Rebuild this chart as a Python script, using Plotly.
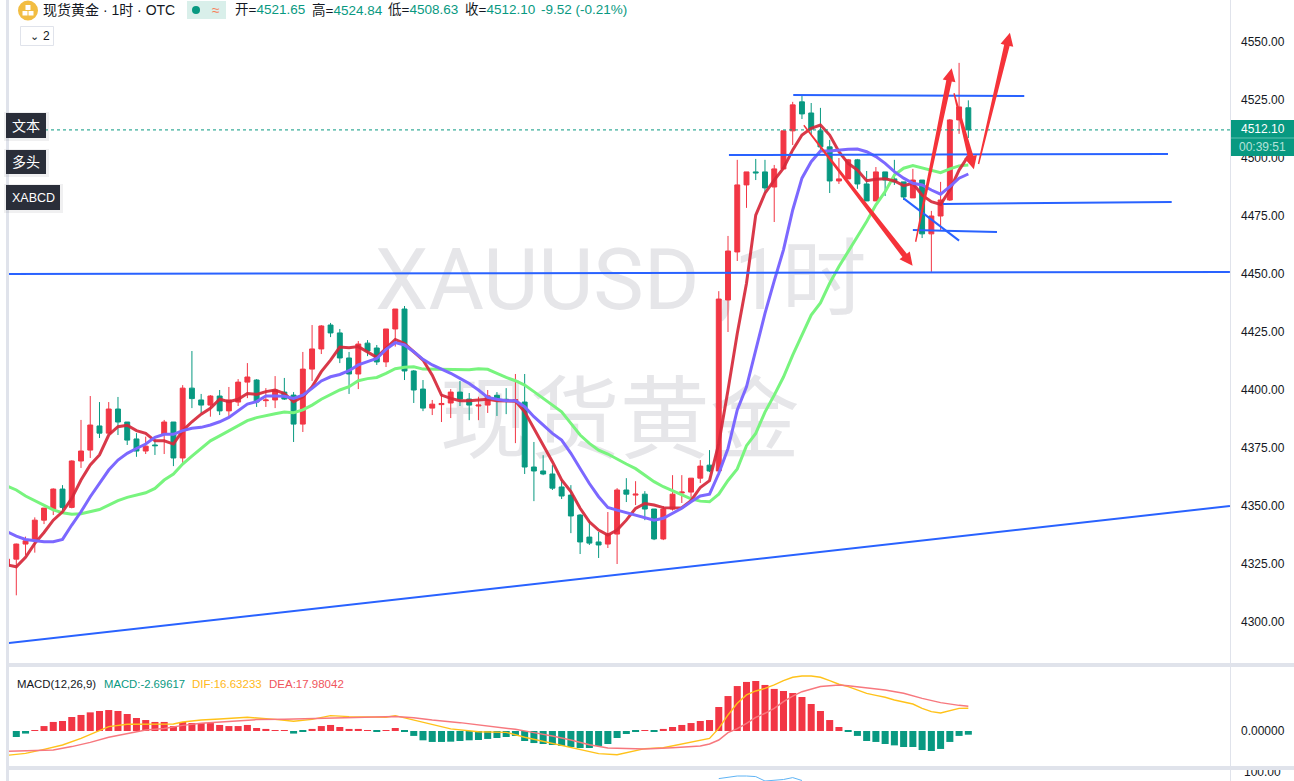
import math
import plotly.graph_objects as go

# candles, bar index -1 .. 103
opens = [4324.1, 4327.1, 4333.6, 4335.3, 4343.9, 4348.7, 4357.3, 4349.4, 4369.4, 4374.1,
         4384.5, 4381.4, 4391.8, 4386.2, 4378.9, 4373.7, 4376.3, 4380.9, 4386.2, 4370.7,
         4400.8, 4395.7, 4393.5, 4397.4, 4391.0, 4394.8, 4403.4, 4404.3, 4395.4, 4395.7,
         4399.1, 4397.8, 4385.3, 4409.0, 4417.7, 4428.0, 4424.6, 4413.8, 4406.9, 4420.2,
         4418.1, 4412.1, 4426.3, 4434.9, 4408.2, 4400.4, 4392.2, 4393.7, 4394.4, 4399.1,
         4396.1, 4393.1, 4393.5, 4397.7, 4396.0, 4395.4, 4394.8, 4366.8, 4365.1, 4363.8,
         4358.2, 4354.7, 4346.1, 4336.6, 4334.5, 4333.6, 4337.9, 4356.9, 4354.7, 4355.1,
         4348.7, 4335.8, 4348.7, 4355.6, 4356.0, 4362.0, 4367.6, 4365.1, 4438.8, 4459.5,
         4488.4, 4494.0, 4494.0, 4487.5, 4495.3, 4511.7, 4524.2, 4519.4, 4511.7, 4504.8,
         4490.1, 4491.0, 4499.2, 4488.8, 4481.5, 4494.0, 4491.0, 4489.7, 4482.8, 4490.5,
         4467.3, 4475.0, 4481.9, 4516.4, 4521.65]
highs = [4328.0, 4333.8, 4336.8, 4345.1, 4349.1, 4357.6, 4359.0, 4369.7, 4387.1, 4397.4,
         4394.8, 4394.8, 4397.0, 4386.2, 4381.4, 4379.9, 4378.9, 4387.1, 4386.2, 4402.1,
         4416.8, 4398.3, 4397.8, 4400.0, 4401.3, 4404.7, 4411.6, 4404.7, 4400.8, 4406.0,
         4405.2, 4399.1, 4416.4, 4428.0, 4428.0, 4428.9, 4426.3, 4416.4, 4421.1, 4421.5,
         4419.4, 4426.3, 4434.9, 4436.2, 4408.6, 4404.3, 4395.7, 4398.3, 4400.4, 4403.9,
         4398.7, 4397.1, 4400.0, 4399.1, 4400.8, 4406.9, 4406.9, 4377.6, 4371.9, 4367.6,
         4361.2, 4359.0, 4346.5, 4344.0, 4338.8, 4347.4, 4357.7, 4362.0, 4360.7, 4356.4,
         4348.7, 4350.0, 4363.3, 4363.3, 4362.0, 4369.8, 4374.1, 4442.6, 4466.4, 4499.2,
         4494.0, 4499.6, 4499.2, 4497.0, 4511.7, 4524.2, 4526.7, 4523.7, 4521.6, 4507.8,
         4500.0, 4499.6, 4499.6, 4494.4, 4496.1, 4494.0, 4499.2, 4489.7, 4495.3, 4490.5,
         4477.2, 4489.7, 4516.8, 4541.0, 4524.84]
lows = [4323.0, 4311.5, 4328.9, 4329.9, 4342.2, 4346.1, 4348.3, 4349.0, 4366.4, 4370.7,
        4379.3, 4381.4, 4380.6, 4376.3, 4371.2, 4372.4, 4372.0, 4372.4, 4367.2, 4368.1,
        4392.2, 4390.1, 4388.5, 4389.2, 4388.8, 4393.1, 4396.5, 4392.7, 4392.7, 4392.2,
        4395.7, 4377.6, 4381.9, 4403.9, 4415.5, 4422.8, 4411.6, 4398.3, 4400.4, 4414.6,
        4410.8, 4409.9, 4418.7, 4404.3, 4394.4, 4390.9, 4389.2, 4386.2, 4387.9, 4393.1,
        4387.0, 4387.0, 4390.1, 4388.8, 4389.6, 4377.1, 4363.8, 4352.1, 4363.3, 4356.9,
        4353.0, 4338.3, 4329.3, 4333.2, 4327.6, 4331.9, 4325.0, 4351.7, 4350.4, 4343.9,
        4335.3, 4335.3, 4348.0, 4351.3, 4352.6, 4359.9, 4364.6, 4365.1, 4425.0, 4455.6,
        4478.5, 4490.5, 4484.8, 4472.4, 4495.3, 4505.6, 4516.8, 4510.0, 4503.5, 4484.9,
        4488.8, 4491.0, 4486.7, 4481.5, 4481.5, 4483.6, 4488.4, 4481.9, 4482.8, 4465.5,
        4450.9, 4469.0, 4481.5, 4510.4, 4508.63]
closes = [4327.1, 4333.6, 4335.0, 4343.9, 4349.1, 4357.3, 4349.4, 4369.4, 4373.7, 4384.9,
          4381.4, 4391.8, 4386.2, 4378.4, 4373.7, 4375.8, 4376.0, 4386.2, 4370.7, 4400.8,
          4396.3, 4393.5, 4397.4, 4391.0, 4395.7, 4403.4, 4405.6, 4394.8, 4395.7, 4400.0,
          4396.1, 4385.3, 4409.0, 4417.7, 4427.6, 4424.6, 4413.8, 4406.9, 4419.8, 4416.8,
          4412.1, 4426.3, 4434.9, 4408.2, 4400.0, 4392.2, 4393.9, 4394.2, 4399.1, 4396.1,
          4393.5, 4393.5, 4397.5, 4395.7, 4395.6, 4395.8, 4366.8, 4365.1, 4363.8, 4357.7,
          4354.3, 4345.7, 4334.5, 4334.0, 4333.2, 4337.9, 4356.9, 4355.1, 4355.1, 4348.7,
          4335.8, 4348.7, 4355.1, 4356.0, 4362.0, 4367.2, 4365.1, 4439.2, 4459.9, 4488.4,
          4494.0, 4493.6, 4487.1, 4495.3, 4511.7, 4522.9, 4519.0, 4512.5, 4504.8, 4490.1,
          4491.0, 4499.2, 4488.8, 4481.5, 4494.0, 4490.5, 4489.7, 4483.2, 4490.5, 4467.3,
          4475.0, 4481.9, 4516.4, 4522.0, 4512.10]

# moving averages, bar index -1 .. 103
ma_fast = [4324.6, 4323.8, 4327.9, 4333.9, 4338.6, 4343.9, 4347.5, 4353.3, 4361.2, 4367.7,
           4372.0, 4380.6, 4384.2, 4384.8, 4382.5, 4381.3, 4378.1, 4378.1, 4376.7, 4382.5,
           4386.3, 4389.6, 4392.1, 4396.0, 4395.0, 4396.0, 4398.5, 4398.1, 4399.3, 4400.0,
           4398.5, 4395.0, 4397.1, 4401.4, 4407.9, 4412.9, 4418.5, 4418.2, 4418.7, 4416.5,
           4414.1, 4418.0, 4421.8, 4420.0, 4416.5, 4412.9, 4406.4, 4397.8, 4396.4, 4395.4,
           4395.4, 4395.7, 4396.0, 4395.4, 4395.2, 4395.2, 4390.6, 4383.4, 4376.3, 4369.1,
           4361.2, 4356.2, 4349.0, 4343.2, 4339.6, 4337.5, 4339.6, 4343.9, 4349.0, 4351.1,
           4350.4, 4349.3, 4349.1, 4349.3, 4352.3, 4358.0, 4360.9, 4377.0, 4400.0, 4424.4,
           4446.0, 4475.4, 4484.8, 4490.5, 4495.6, 4503.5, 4509.9, 4512.8, 4514.2, 4509.9,
           4502.7, 4497.7, 4494.8, 4490.2, 4490.8, 4491.1, 4490.1, 4488.1, 4489.1, 4484.0,
           4481.2, 4480.0, 4486.2, 4494.8, 4500.9]
ma_mid = [4338.9, 4337.0, 4335.6, 4335.0, 4334.6, 4334.6, 4335.6, 4341.8, 4347.5, 4354.0,
          4359.8, 4365.5, 4369.8, 4372.7, 4374.8, 4376.7, 4379.6, 4380.9, 4380.9, 4382.5,
          4383.5, 4383.9, 4384.9, 4386.3, 4388.2, 4391.1, 4393.9, 4395.0, 4397.4, 4397.4,
          4397.3, 4396.4, 4397.8, 4400.7, 4403.9, 4405.7, 4406.7, 4408.3, 4410.8, 4412.2,
          4413.6, 4417.5, 4420.4, 4419.4, 4416.5, 4413.2, 4410.8, 4409.0, 4407.2, 4405.0,
          4402.8, 4400.0, 4396.8, 4396.0, 4395.4, 4395.4, 4392.8, 4388.5, 4384.9, 4381.3,
          4378.4, 4372.7, 4366.2, 4359.7, 4354.0, 4349.4, 4348.2, 4347.1, 4346.1, 4344.7,
          4343.9, 4344.7, 4346.8, 4349.0, 4351.8, 4354.3, 4355.1, 4364.0, 4374.8, 4391.4,
          4401.4, 4417.2, 4433.0, 4447.0, 4460.4, 4477.6, 4491.3, 4498.4, 4503.0, 4503.0,
          4503.5, 4503.8, 4503.9, 4502.7, 4500.6, 4497.7, 4494.1, 4491.3, 4489.1, 4488.4,
          4486.2, 4484.4, 4487.7, 4491.3, 4493.1]
ma_slow = [4358.6, 4356.9, 4354.3, 4352.3, 4350.4, 4348.3, 4347.1, 4346.4, 4346.7, 4347.5,
           4348.5, 4350.4, 4352.3, 4353.7, 4354.7, 4355.7, 4357.6, 4361.2, 4363.8, 4368.1,
           4371.5, 4374.8, 4378.1, 4380.2, 4382.5, 4384.5, 4386.8, 4388.1, 4389.1, 4389.8,
           4390.5, 4390.2, 4391.4, 4393.5, 4396.0, 4398.1, 4400.0, 4401.4, 4404.0, 4404.9,
           4405.4, 4407.2, 4409.2, 4409.8, 4410.0, 4409.0, 4408.9, 4408.9, 4408.9, 4408.7,
           4408.7, 4409.2, 4408.9, 4407.2, 4405.4, 4404.0, 4402.1, 4399.3, 4396.4, 4393.5,
           4390.6, 4385.6, 4380.6, 4377.0, 4374.1, 4372.4, 4370.1, 4368.1, 4366.1, 4363.3,
           4360.5, 4358.3, 4356.6, 4354.7, 4353.1, 4352.1, 4351.8, 4355.1, 4361.0, 4366.0,
           4376.0, 4381.3, 4390.5, 4397.8, 4405.6, 4415.0, 4423.7, 4432.3, 4437.5, 4446.0,
           4453.2, 4459.6, 4466.1, 4472.6, 4479.8, 4485.5, 4492.7, 4495.6, 4496.7, 4495.6,
           4494.6, 4493.7, 4495.3, 4496.6, 4497.0]

# macd histogram, bar index 0 .. 103
macd_hist = [-4.4, -1.9, 0.3, 3.6, 6.6, 7.3, 10.2, 11.7, 13.6, 14.6,
             15.3, 14.6, 12.4, 9.5, 8.0, 6.6, 6.6, 3.6, 6.6, 5.8,
             5.8, 5.8, 4.4, 3.6, 3.6, 4.4, 2.2, 1.5, 0.7, 0.2,
             -1.9, -0.5, 1.5, 3.6, 4.4, 2.9, 1.5, 1.5, 0.7, -0.5,
             0.7, 2.2, -0.3, -3.6, -6.8, -8.0, -8.0, -7.8, -7.3, -6.8,
             -6.6, -5.8, -5.1, -4.4, -3.6, -7.3, -8.8, -9.5, -10.2, -10.9,
             -11.7, -12.4, -12.4, -10.9, -9.5, -5.1, -2.2, -0.3, 0.2, -0.3,
             1.5, 2.9, 4.4, 5.8, 7.3, 8.0, 17.5, 25.5, 32.8, 35.8,
             36.5, 33.6, 30.7, 29.2, 27.7, 24.8, 19.7, 14.6, 8.0, 2.9,
             -0.3, -3.6, -7.3, -8.0, -9.5, -10.5, -11.7, -11.7, -13.9, -14.6,
             -13.1, -8.0, -3.6, -2.7]

dif_bars = [-1, 1, 3, 5, 7, 9, 10, 12, 14, 16, 17, 18, 20, 22, 25, 28, 30, 32, 34, 36, 38, 40, 41,
            43, 45, 47, 50, 53, 55, 58, 61, 63, 65, 67, 68, 70, 72, 75, 76, 77, 78, 79, 80, 81, 82,
            83, 84, 85, 86, 87, 88, 89, 90, 91, 92, 93, 94, 95, 96, 97, 98, 99, 100, 101, 102, 103]
dif_values = [-17.8, -16.3, -13.4, -10.2, -5.4, 0.0, 3.2, 4.9, 4.9, 4.9, 5.1, 6.6, 8.0, 8.8, 10.0,
              8.5, 7.1, 8.5, 11.2, 10.5, 10.5, 10.0, 11.2, 8.0, 4.4, 1.5, -0.5, -1.0, -4.6, -9.0,
              -13.4, -16.5, -17.3, -14.4, -12.9, -12.2, -9.5, -5.4, 1.9, 11.7, 20.2, 26.3, 29.2,
              31.1, 33.6, 36.7, 39.2, 40.1, 40.1, 39.2, 36.7, 34.1, 32.4, 29.9, 27.5, 26.0, 24.6,
              22.6, 21.2, 19.7, 16.5, 14.1, 13.1, 14.6, 16.5, 16.63]
dea_bars = [-1, 2, 4, 6, 8, 10, 12, 14, 16, 18, 20, 23, 26, 29, 32, 35, 38, 41, 43, 45, 48, 51, 54,
            56, 58, 60, 62, 64, 66, 68, 71, 74, 75, 76, 77, 78, 79, 80, 81, 82, 83, 84, 85, 86, 87,
            88, 89, 90, 92, 94, 96, 98, 100, 101, 102, 103]
dea_values = [-14.8, -14.4, -13.9, -11.4, -8.3, -4.6, -1.7, 0.7, 1.9, 4.1, 5.6, 7.1, 8.3, 8.5, 9.0,
              10.0, 10.2, 10.5, 9.7, 8.0, 6.1, 3.6, 1.2, -1.2, -3.6, -6.6, -10.0, -12.4, -12.9,
              -13.1, -12.2, -10.9, -9.5, -6.6, -1.2, 1.7, 5.6, 10.0, 12.9, 16.5, 21.4, 25.5, 28.7,
              30.7, 32.4, 33.1, 33.6, 33.1, 31.6, 29.9, 27.5, 23.8, 20.7, 19.5, 18.7, 17.98]

# bottom pane, only the top of it shows
osc_bars = [76, 77, 78, 79, 80, 81, 82, 83, 84, 85]
osc_values = [93.4, 94.5, 96.0, 96.0, 95.4, 91.0, 91.5, 92.5, 94.4, 91.5]

# drawings: (bar, price) pairs
blue_lines = [
    ((-0.8, 4290.95), (131.3, 4350.0)),
    ((-0.8, 4450.0), (131.3, 4450.9)),
    ((84.06, 4527.2), (109.05, 4526.7)),
    ((77.1, 4501.3), (124.6, 4501.7)),
    ((100.26, 4480.2), (125.0, 4481.0)),
    ((97.0, 4469.0), (106.1, 4468.1)),
    ((96.0, 4482.6), (102.0, 4464.4)),
]
red_arrows = [
    ((85.2, 4514.1), (96.97, 4453.6)),
    ((97.3, 4463.9), (101.2, 4538.7)),
    ((101.45, 4527.9), (103.6, 4495.2)),
    ((104.1, 4497.4), (107.5, 4554.0)),
]

last_price = 4512.10
price_ticks = [4300, 4325, 4350, 4375, 4400, 4425, 4450, 4475, 4500, 4525, 4550]

W, H = 1294, 781
PX_PER_BAR = 9.243
PX_PER_USD = 2.32
UP = '#f23645'
DOWN = '#089981'
BORDER = '#e0e3eb'
TXT = '#131722'
FONT = 'Liberation Sans, Noto Sans CJK SC, sans-serif'

candle_bars = list(range(-1, 104))
x_range = [-0.79, 131.31]
price_range = [4282.33, 4568.10]
dom_x = [9 / W, 1230 / W]


def arrow_polygon(tail, tip):
    # tapered brush arrow, sizes are in screen pixels
    dx = (tip[0] - tail[0]) * PX_PER_BAR
    dy = (tip[1] - tail[1]) * PX_PER_USD
    length = math.hypot(dx, dy)
    ux, uy = dx / length, dy / length
    nx, ny = -uy, ux
    head = 13
    pts = []
    for along, side in [(0, 0.7), (length - head, 2.8), (length - head, 6.5), (length, 0),
                        (length - head, -6.5), (length - head, -2.8), (0, -0.7)]:
        px = along * ux + side * nx
        py = along * uy + side * ny
        pts.append((tail[0] + px / PX_PER_BAR, tail[1] + py / PX_PER_USD))
    pts.append(pts[0])
    return [p[0] for p in pts], [p[1] for p in pts]


fig = go.Figure()

# watermark sits on the base axes so the candles stay above it
fig.add_trace(go.Scatter(x=[65.4], y=[4444.0], mode='text', text=['XAUUSD\u2009,1时'],
                         textfont=dict(size=85, color='#e6e6e9', family='Roboto, Noto Sans CJK SC'),
                         xaxis='x', yaxis='y', hoverinfo='skip'))
fig.add_trace(go.Scatter(x=[65.3], y=[4383.6], mode='text', text=['现货黄金'],
                         textfont=dict(size=90, color='#e6e6e9', family='Noto Sans CJK SC'),
                         xaxis='x', yaxis='y', hoverinfo='skip'))

fig.add_trace(go.Candlestick(
    x=candle_bars, open=opens, high=highs, low=lows, close=closes,
    increasing=dict(line=dict(color=UP, width=1), fillcolor=UP),
    decreasing=dict(line=dict(color=DOWN, width=1), fillcolor=DOWN),
    whiskerwidth=0, xaxis='x2', yaxis='y2', hoverinfo='skip'))

fig.add_trace(go.Scatter(x=candle_bars, y=ma_slow, mode='lines', xaxis='x2', yaxis='y2',
                         line=dict(color='#78f47e', width=3), hoverinfo='skip'))
fig.add_trace(go.Scatter(x=candle_bars, y=ma_fast, mode='lines', xaxis='x2', yaxis='y2',
                         line=dict(color='rgba(214,40,58,0.92)', width=3), hoverinfo='skip'))
fig.add_trace(go.Scatter(x=candle_bars, y=ma_mid, mode='lines', xaxis='x2', yaxis='y2',
                         line=dict(color='#7c68ff', width=3), hoverinfo='skip'))

fig.add_trace(go.Scatter(x=x_range, y=[last_price, last_price], mode='lines', xaxis='x2', yaxis='y2',
                         line=dict(color=DOWN, width=1, dash='dot'), hoverinfo='skip'))

for start, end in blue_lines:
    fig.add_trace(go.Scatter(x=[start[0], end[0]], y=[start[1], end[1]], mode='lines',
                             xaxis='x2', yaxis='y2', line=dict(color='#2962ff', width=2),
                             hoverinfo='skip'))

for tail, tip in red_arrows:
    ax, ay = arrow_polygon(tail, tip)
    fig.add_trace(go.Scatter(x=ax, y=ay, mode='lines', fill='toself', fillcolor='#f5333a',
                             line=dict(width=0, color='#f5333a'), xaxis='x2', yaxis='y2',
                             hoverinfo='skip'))

# macd pane
fig.add_trace(go.Bar(x=candle_bars[1:], y=macd_hist, width=0.76,
                     marker=dict(color=[UP if v > 0 else DOWN for v in macd_hist], line_width=0),
                     xaxis='x3', yaxis='y3', hoverinfo='skip'))
fig.add_trace(go.Scatter(x=dif_bars, y=dif_values, mode='lines', xaxis='x3', yaxis='y3',
                         line=dict(color='#ffc21a', width=1.4), hoverinfo='skip'))
fig.add_trace(go.Scatter(x=dea_bars, y=dea_values, mode='lines', xaxis='x3', yaxis='y3',
                         line=dict(color='#f7787e', width=1.5), hoverinfo='skip'))

fig.add_trace(go.Scatter(x=osc_bars, y=osc_values, mode='lines', xaxis='x4', yaxis='y4',
                         line=dict(color='#5fb4f5', width=1), hoverinfo='skip'))


def px_rect(x0, y0, x1, y1, **kw):
    return dict(type='rect', xref='paper', yref='paper', x0=x0 / W, x1=x1 / W,
                y0=1 - y0 / H, y1=1 - y1 / H, **kw)


def label(x, y, text, size=12, color=TXT, anchor='left', family=FONT):
    return dict(xref='paper', yref='paper', x=x / W, y=1 - y / H, text=text, showarrow=False,
                xanchor=anchor, yanchor='middle', borderpad=0,
                font=dict(size=size, color=color, family=family))


shapes = [
    px_rect(6, 0, 9, H, fillcolor=BORDER, line_width=0),
    px_rect(6, 663, W, 667, fillcolor=BORDER, line_width=0),
    px_rect(6, 766, W, 770, fillcolor=BORDER, line_width=0),
    px_rect(1230, 0, 1231, H, fillcolor=BORDER, line_width=0),
    # price tag
    px_rect(1231, 120, W, 156, fillcolor=DOWN, line_width=0),
    px_rect(1231, 137.5, W, 138.5, fillcolor='#5cc2b0', line_width=0),
    # side tags, soft shadow first
    px_rect(4, 112, 49, 141, fillcolor='rgba(40,45,60,0.07)', line_width=0),
    px_rect(4, 149, 49, 177, fillcolor='rgba(40,45,60,0.07)', line_width=0),
    px_rect(4, 184, 63, 213, fillcolor='rgba(40,45,60,0.07)', line_width=0),
    px_rect(6, 113, 46, 138, fillcolor='#2a2e39', line_width=0),
    px_rect(6, 150, 46, 174, fillcolor='#2a2e39', line_width=0),
    px_rect(6, 185, 60, 210, fillcolor='#2a2e39', line_width=0),
    # symbol icon, status pill, collapse button
    dict(type='circle', xref='paper', yref='paper', x0=18 / W, x1=38 / W, y0=1 - 20.5 / H, y1=1 - 0.5 / H,
         fillcolor='#f2bd42', line_width=0),
    px_rect(25.5, 5, 30.5, 10, fillcolor='white', line_width=0),
    px_rect(22.5, 11, 27.5, 15.5, fillcolor='white', line_width=0),
    px_rect(28.5, 11, 33.5, 15.5, fillcolor='white', line_width=0),
    px_rect(187, 1, 226, 19, fillcolor='#d9efea', line_width=0),
    dict(type='circle', xref='paper', yref='paper', x0=192 / W, x1=200 / W, y0=1 - 14 / H, y1=1 - 6 / H,
         fillcolor=DOWN, line_width=0),
    px_rect(20.5, 26.5, 53.5, 45.5, fillcolor='white', line=dict(color=BORDER, width=1)),
]

green_txt = '#089981'
annotations = [
    label(42, 10, '现货黄金 · 1时 · OTC', size=14),
    label(216, 10, '≈', size=14, color='#f7805a', anchor='center'),
    label(234, 10, '开=<span style="color:%s">4521.65</span>' % green_txt, size=13.5),
    label(311, 10, '高=<span style="color:%s">4524.84</span>' % green_txt, size=13.5),
    label(387, 10, '低=<span style="color:%s">4508.63</span>' % green_txt, size=13.5),
    label(464, 10, '收=<span style="color:%s">4512.10</span>' % green_txt, size=13.5),
    label(540, 10, '-9.52 (-0.21%)', size=13.5, color=green_txt),
    label(29, 36, '⌄', size=11, anchor='left', family='DejaVu Sans'),
    label(42, 36, '2', size=12),
    label(26, 126, '文本', size=14, color='white', anchor='center'),
    label(26, 162, '多头', size=14, color='white', anchor='center'),
    label(33, 198, 'XABCD', size=12.5, color='white', anchor='center'),
    label(1262.5, 128.5, '4512.10', size=12, color='white', anchor='center'),
    label(1262.5, 147, '00:39:51', size=12, color='#b4e3da', anchor='center'),
    label(16, 684, 'MACD(12,26,9)', size=11.4),
    label(103, 684, 'MACD:-2.69617', size=11.3, color=green_txt),
    label(191, 684, 'DIF:16.63233', size=11.5, color='#ffb818'),
    label(268, 684, 'DEA:17.98042', size=11.5, color='#f0565c'),
]

hidden_x = dict(domain=dom_x, range=x_range, visible=False, fixedrange=True)
tick_font = dict(size=12, color=TXT, family=FONT)

fig.update_layout(
    width=W, height=H, margin=dict(l=0, r=0, t=0, b=0),
    paper_bgcolor='white', plot_bgcolor='white', showlegend=False,
    font=dict(family=FONT, color=TXT, size=12),
    boxgap=0.24,
    xaxis=dict(hidden_x),
    yaxis=dict(domain=[1 - 663 / H, 1], range=price_range, visible=False, fixedrange=True),
    xaxis2=dict(hidden_x, overlaying='x', anchor='y2', rangeslider=dict(visible=False)),
    yaxis2=dict(domain=[1 - 663 / H, 1], range=price_range, overlaying='y', anchor='x2', side='right',
                tickvals=price_ticks, ticktext=['%.2f' % t for t in price_ticks],
                showgrid=False, zeroline=False, showline=False, ticks='',
                ticklabelstandoff=10, tickfont=tick_font, automargin=False),
    xaxis3=dict(hidden_x, anchor='y3'),
    yaxis3=dict(domain=[1 - 766 / H, 1 - 667 / H], range=[-25.55, 46.7], anchor='x3', side='right',
                tickvals=[0], ticktext=['0.00000'], showgrid=False, zeroline=False, showline=False,
                ticks='', ticklabelstandoff=10, tickfont=tick_font, automargin=False),
    xaxis4=dict(hidden_x, anchor='y4'),
    yaxis4=dict(domain=[0, 1 - 770 / H], range=[91.0, 102.0], anchor='x4', side='right',
                tickvals=[100], ticktext=['100.00'], showgrid=False, zeroline=False, showline=False,
                ticks='', ticklabelstandoff=13, tickfont=tick_font, automargin=False),
    shapes=shapes,
    annotations=annotations,
)

fig.write_html("out.html", config={'displayModeBar': False},
               post_script="document.body.style.margin='0';")
